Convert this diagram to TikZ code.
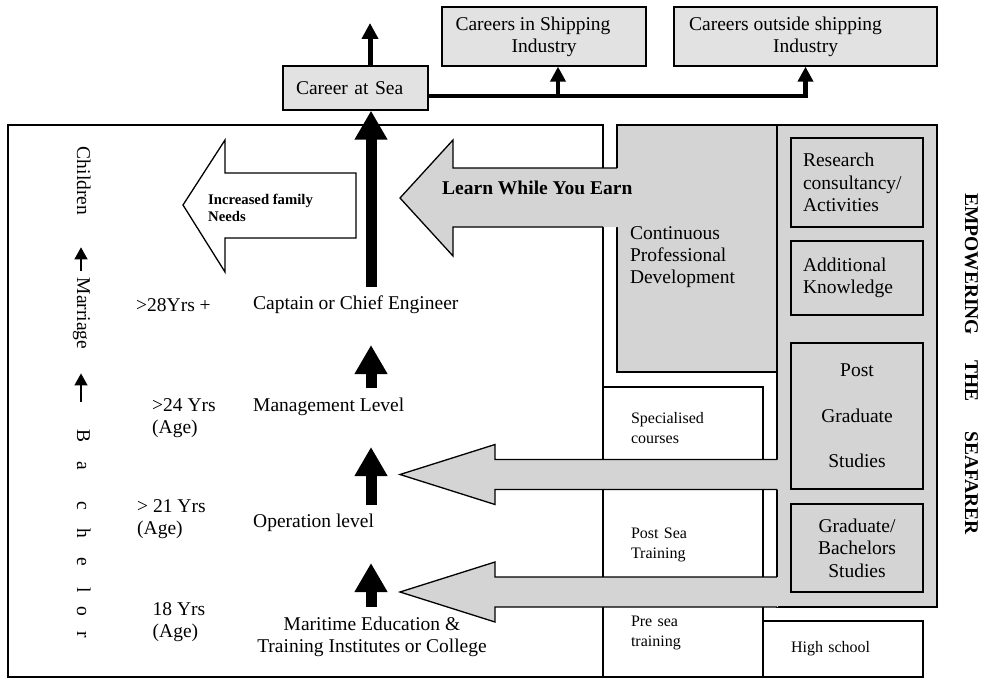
\documentclass[tikz,border=0pt]{standalone}
\usepackage{fontspec}
\setmainfont{Liberation Serif}
\usetikzlibrary{arrows.meta}
\definecolor{boxgray}{RGB}{212,212,212}
\definecolor{topgray}{RGB}{226,226,226}
\begin{document}
\begin{tikzpicture}[x=1pt,y=-1pt,font=\fontsize{19.5}{22}\selectfont,
    box/.style={draw, line width=1.3pt},
    graybox/.style={box, fill=boxgray},
    topbox/.style={box, fill=topgray},
    whitebox/.style={box, fill=white},
    lbl/.style={align=left},
    smalltxt/.style={align=left, text width=104, font=\fontsize{16}{20}\selectfont},
    sidetxt/.style={align=left, font=\fontsize{19.5}{22.5}\selectfont},
    lifetxt/.style={rotate=-90, anchor=base},
    careerline/.style={line width=4.5pt, -{Triangle[width=15pt,length=15pt]}},
    thinup/.style={line width=5pt, -{Triangle[width=16pt,length=16pt]}},
    bigup/.style={line width=11pt, -{Triangle[width=31pt,length=29pt]}},
    lifearrow/.style={line width=1.4pt, -{Triangle[width=13pt,length=12pt]}}]
    \tikzstyle{every node}+=[inner sep=0pt]
    \useasboundingbox (0,0) rectangle (981,679);

    % careers at the top
    \node[topbox, minimum width=145, minimum height=44, text width=119, align=left] (sea) at (355.5,88) {Career at Sea};
    \node[topbox, minimum width=204, minimum height=59, align=center] (inship) at (544,36.5) {Careers in Shipping\hspace*{22pt}\\Industry};
    \node[topbox, minimum width=263, minimum height=59, align=center] (outside) at (805.5,36.5) {Careers outside shipping\hspace*{40pt}\\Industry};
    \coordinate (fork) at (558,96);
    \coordinate (seaup) at (370,23);
    \draw[careerline] (sea.east |- fork) -| (outside.south);
    \draw[careerline] (fork) -- (fork |- inship.south);
    \draw[thinup] (seaup |- sea.north) -- (seaup);

    % boxes
    \node[box, minimum width=595, minimum height=552] (lifebox) at (305.5,401) {};
    \node[graybox, minimum width=160, minimum height=247] (cpd) at (697,248.5) {};
    \node[lbl, text width=134] (cpdtext) at ([yshift=-8.5pt]cpd.center) {Continuous\\Professional\\Development};
    \node[graybox, minimum width=160, minimum height=482] (rcol) at (857,366) {};
    \node[graybox, sidetxt, minimum width=132, minimum height=89, text width=108] (research) at (857,182.5) {Research\\consultancy/\\Activities};
    \node[graybox, sidetxt, minimum width=132, minimum height=74, text width=108] (addknow) at (857,278) {Additional\\Knowledge};
    \node[graybox, minimum width=132, minimum height=146, align=center, font=\fontsize{19.5}{45.5}\selectfont] (postgrad) at (857,416) {Post\\Graduate\\Studies};
    \node[graybox, sidetxt, minimum width=132, minimum height=88, align=center] (gradbach) at (857,548) {Graduate/\\Bachelors\\Studies};
    \node[whitebox, smalltxt, minimum width=160, minimum height=82] (specialised) at (683,428) {Specialised\\courses};
    \node[whitebox, smalltxt, minimum width=160, minimum height=112] (postsea) at (683,545) {Post Sea\\Training};
    \node[whitebox, smalltxt, minimum width=160, minimum height=88] (presea) at (683,633) {Pre sea\\training};
    \node[whitebox, smalltxt, minimum width=160, minimum height=56] (highschool) at (843,649) {High school};

    % learn while you earn
    \fill[boxgray] (400,198) -- (453,140) -- (453,168) -- (618.5,168) -- (618.5,227) -- (453,227) -- (453,256) -- cycle;
    \draw[line width=1.3pt] (617,168) -- (453,168) -- (453,140) -- (400,198) -- (453,256) -- (453,227) -- (603,227);
    \node[anchor=west, font=\bfseries\fontsize{19.5}{22}\selectfont] (learn) at (442,188) {Learn While You Earn};
    \foreach \m in {474.5,592} {
        \fill[boxgray] (400,\m) -- (495,\m-30) -- (495,\m-15) -- (778,\m-15) -- (778,\m+15) -- (495,\m+15) -- (495,\m+30) -- cycle;
        \draw[line width=1.3pt] (777,\m-15) -- (495,\m-15) -- (495,\m-30) -- (400,\m) -- (495,\m+30) -- (495,\m+15) -- (777,\m+15);
    }

    % family needs
    \draw[line width=1.3pt, fill=white] (183,205) -- (225,140) -- (225,173) -- (356,173) -- (356,238) -- (225,238) -- (225,272) -- cycle;
    \node[anchor=west, align=left, font=\bfseries\fontsize{14.7}{17}\selectfont] (needs) at (208,207.5) {Increased family\\Needs};

    % ranks and ages
    \node[lbl, anchor=west] (age28) at (136,305) {>28Yrs +};
    \node[lbl, anchor=west] (captain) at (253,305) {Captain or Chief Engineer};
    \node[lbl, anchor=west] (age24) at (152,418) {>24 Yrs\\(Age)};
    \node[lbl, anchor=west] (mgmt) at (253,407) {Management Level};
    \node[lbl, anchor=west] (age21) at (137,519) {> 21 Yrs\\(Age)};
    \node[lbl, anchor=west] (oper) at (253,523) {Operation level};
    \node[lbl, anchor=west] (age18) at (152.5,622) {18 Yrs\\(Age)};
    \node[align=center] (college) at (372,637) {Maritime Education \&\\Training Institutes or College};
    \coordinate (captop) at (371,287);
    \draw[bigup] (captop) -- (captop |- sea.south);
    \foreach \tipy/\taily in {345/388,447/505,563/607}
        \draw[bigup] (371,\taily) -- (371,\tipy);

    % life stages
    \node[lifetxt] (children) at (77,181) {Children};
    \node[lifetxt] (marriage) at (77,313.5) {Marriage};
    \foreach \ch/\yy [count=\i] in {B/436,a/466,c/506,h/533,e/562,l/590,o/611,r/635}
        \node[lifetxt] (bach\i) at (77,\yy) {\ch};
    \coordinate (lifeaxis) at (81,0);
    \draw[lifearrow, shorten <=7pt, shorten >=32pt] (lifeaxis |- marriage.west) -- (lifeaxis |- children.east);
    \draw[lifearrow, shorten <=27pt, shorten >=24pt] (lifeaxis |- bach1.west) -- (lifeaxis |- marriage.east);

    \node[lifetxt, font=\bfseries\fontsize{19.5}{22}\selectfont] (empower) at (965,364) {EMPOWERING\hspace{25pt}THE\hspace{30pt}SEAFARER};
\end{tikzpicture}
\end{document}
